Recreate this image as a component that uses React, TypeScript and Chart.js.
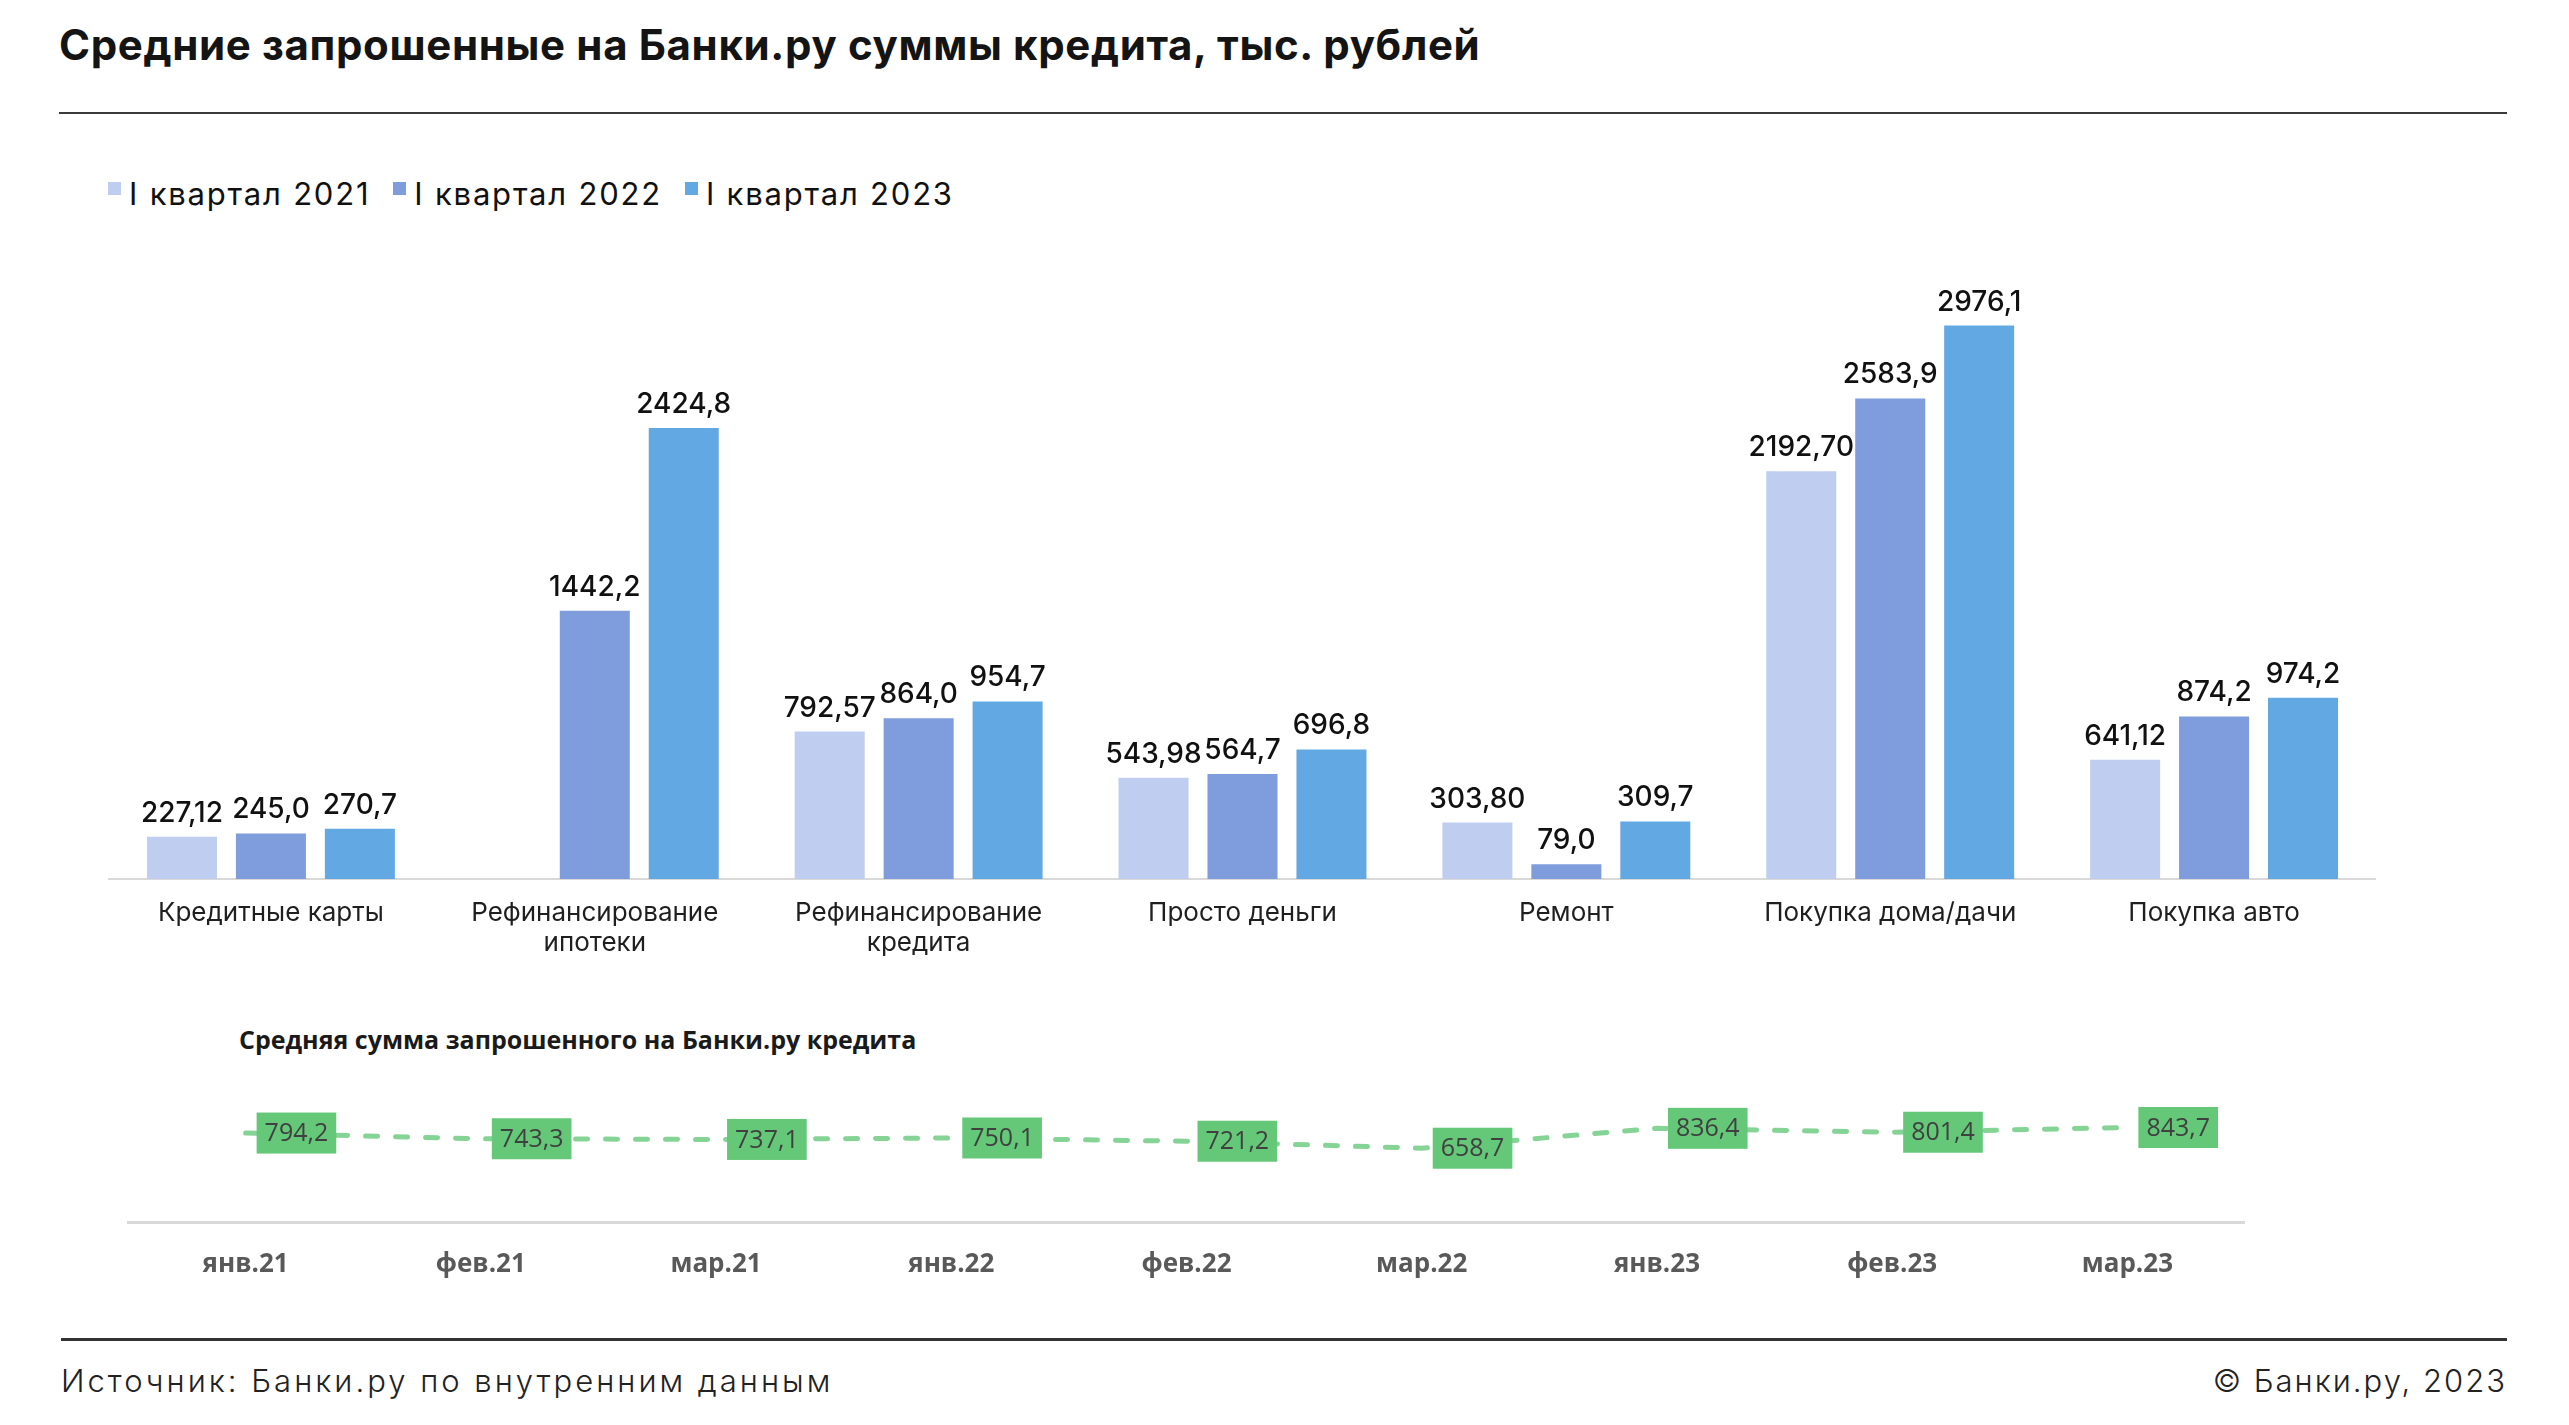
import React, { useEffect, useRef } from "react";
import { Chart, registerables } from "chart.js";

Chart.register(...registerables);

// ---- Data ----
const categories: string[][] = [
  ["Кредитные карты"],
  ["Рефинансирование", "ипотеки"],
  ["Рефинансирование", "кредита"],
  ["Просто деньги"],
  ["Ремонт"],
  ["Покупка дома/дачи"],
  ["Покупка авто"],
];
const seriesNames = ["I квартал 2021", "I квартал 2022", "I квартал 2023"];
const q1_2021: (number | null)[] = [227.12, null, 792.57, 543.98, 303.8, 2192.7, 641.12];
const q1_2022: (number | null)[] = [245.0, 1442.2, 864.0, 564.7, 79.0, 2583.9, 874.2];
const q1_2023: (number | null)[] = [270.7, 2424.8, 954.7, 696.8, 309.7, 2976.1, 974.2];
const seriesDecimals = [2, 1, 1];
const seriesColors = ["#BFCDF0", "#7F9CDC", "#62A8E2"];

const months = ["янв.21", "фев.21", "мар.21", "янв.22", "фев.22", "мар.22", "янв.23", "фев.23", "мар.23"];
const avgRequested = [794.2, 743.3, 737.1, 750.1, 721.2, 658.7, 836.4, 801.4, 843.7];

const fmt = (v: number, d: number) => v.toFixed(d).replace(".", ",");

const barLabelPlugin = {
  id: "barValueLabels",
  afterDatasetsDraw(chart: any) {
    const ctx = chart.ctx;
    ctx.save();
    ctx.font = "500 28px Inter";
    ctx.fillStyle = "#111111";
    ctx.textAlign = "center";
    ctx.textBaseline = "alphabetic";
    chart.data.datasets.forEach((ds: any, di: number) => {
      const meta = chart.getDatasetMeta(di);
      meta.data.forEach((bar: any, i: number) => {
        const v = ds.data[i];
        if (v === null || v === undefined) return;
        ctx.fillText(fmt(v, seriesDecimals[di]), bar.x, bar.y - 15);
      });
    });
    ctx.restore();
  },
};

const lineLabelPlugin = {
  id: "lineValueBoxes",
  afterDatasetsDraw(chart: any) {
    const ctx = chart.ctx;
    const meta = chart.getDatasetMeta(0);
    ctx.save();
    ctx.font = '25px "Open Sans"';
    ctx.textAlign = "center";
    ctx.textBaseline = "middle";
    meta.data.forEach((pt: any, i: number) => {
      const txt = fmt(avgRequested[i], 1);
      const w = ctx.measureText(txt).width + 16;
      const h = 41;
      const x0 = pt.x + 11;
      ctx.fillStyle = "#64C878";
      ctx.fillRect(x0, pt.y - h / 2, w, h);
      ctx.fillStyle = "#404040";
      ctx.fillText(txt, x0 + w / 2, pt.y + 1);
    });
    ctx.restore();
  },
};

export default function App() {
  const barRef = useRef<HTMLCanvasElement>(null);
  const lineRef = useRef<HTMLCanvasElement>(null);

  useEffect(() => {
    document.body.style.margin = "0";
    document.documentElement.style.overflow = "hidden";
    const datasets = [q1_2021, q1_2022, q1_2023].map((d, i) => ({
      label: seriesNames[i],
      data: d,
      backgroundColor: seriesColors[i],
      borderWidth: 0,
      categoryPercentage: 0.824,
      barPercentage: 0.787,
    }));
    const bar = new Chart(barRef.current!, {
      type: "bar",
      data: { labels: categories, datasets },
      options: {
        animation: false,
        responsive: false,
        maintainAspectRatio: false,
        layout: { padding: { left: 109, top: 0, right: 0, bottom: 0 } },
        plugins: {
          legend: { display: false },
          tooltip: { enabled: false },
        },
        scales: {
          x: {
            grid: { display: false, drawTicks: false },
            border: { color: "#D9D9D9", width: 2 },
            ticks: {
              padding: 19,
              color: "#1F1F1F",
              maxRotation: 0,
              autoSkip: false,
              font: { family: "Inter", size: 26, lineHeight: 1.15 },
            },
            afterFit: (s: any) => {
              s.height = 100;
            },
          },
          y: {
            display: false,
            min: 0,
            max: 3490,
          },
        },
      } as any,
      plugins: [barLabelPlugin],
    });

    const line = new Chart(lineRef.current!, {
      type: "line",
      data: {
        labels: months,
        datasets: [
          {
            label: "Средняя сумма запрошенного на Банки.ру кредита",
            data: avgRequested,
            borderColor: "rgba(102,200,122,0.8)",
            borderWidth: 5,
            borderDash: [12, 18],
            borderCapStyle: "round",
            pointRadius: 0,
            tension: 0,
            fill: false,
          },
        ],
      },
      options: {
        animation: false,
        responsive: false,
        maintainAspectRatio: false,
        layout: { padding: { left: 128, right: 0, top: 40, bottom: 0 } },
        plugins: { legend: { display: false }, tooltip: { enabled: false } },
        scales: {
          x: {
            offset: true,
            grid: { display: false, drawTicks: false },
            border: { color: "#D9D9D9", width: 3 },
            ticks: {
              padding: 27,
              color: "#595959",
              font: { family: "Open Sans", weight: "bold", size: 26 },
              maxRotation: 0,
              autoSkip: false,
            },
            afterFit: (s: any) => {
              s.height = 66;
            },
          },
          y: { display: false, min: 0, max: 1000 },
        },
      } as any,
      plugins: [lineLabelPlugin],
    });

    return () => {
      bar.destroy();
      line.destroy();
    };
  }, []);

  const abs = (o: React.CSSProperties): React.CSSProperties => ({ position: "absolute", ...o });

  return (
    <div style={abs({ left: 0, top: 0, width: 2569, height: 1425, background: "#ffffff", overflow: "hidden" })}>
      <div
        style={abs({
          left: 59,
          top: 24,
          font: "700 42px Inter",
          lineHeight: "42px",
          letterSpacing: "0.65px",
          color: "#141414",
          whiteSpace: "nowrap",
        })}
      >
        Средние запрошенные на Банки.ру суммы кредита, тыс. рублей
      </div>
      <div style={abs({ left: 59, top: 112, width: 2448, height: 2, background: "#3A3A3A" })} />

      <div style={abs({ left: 108, top: 178, display: "flex", alignItems: "flex-start", whiteSpace: "nowrap" })}>
        {seriesNames.map((name, i) => (
          <div key={name} style={{ display: "flex", alignItems: "flex-start", marginRight: 23 }}>
            <div style={{ width: 13, height: 13, marginTop: 4, marginRight: 8, background: seriesColors[i] }} />
            <div
              style={{
                font: "400 31px Inter",
                lineHeight: "31px",
                letterSpacing: "1.8px",
                color: "#111111",
              }}
            >
              {name}
            </div>
          </div>
        ))}
      </div>

      <canvas
        ref={barRef}
        width={2376}
        height={749}
        style={abs({ left: 0, top: 230, width: 2376, height: 749 })}
      />

      <div
        style={abs({
          left: 239,
          top: 1027,
          font: '700 25px "Open Sans"',
          lineHeight: "25px",
          color: "#1A1A1A",
          whiteSpace: "nowrap",
        })}
      >
        Средняя сумма запрошенного на Банки.ру кредита
      </div>
      <canvas
        ref={lineRef}
        width={2245}
        height={218}
        style={abs({ left: 0, top: 1070, width: 2245, height: 218 })}
      />

      <div style={abs({ left: 61, top: 1338, width: 2446, height: 3, background: "#333333" })} />
      <div
        style={abs({
          left: 61,
          top: 1365,
          font: "300 31px Inter",
          lineHeight: "31px",
          color: "#222222",
          whiteSpace: "nowrap",
          letterSpacing: "3px",
        })}
      >
        Источник: Банки.ру по внутренним данным
      </div>
      <div
        style={abs({
          right: 62,
          top: 1365,
          font: "300 31px Inter",
          lineHeight: "31px",
          color: "#222222",
          whiteSpace: "nowrap",
          letterSpacing: "2px",
        })}
      >
        © Банки.ру, 2023
      </div>
    </div>
  );
}
